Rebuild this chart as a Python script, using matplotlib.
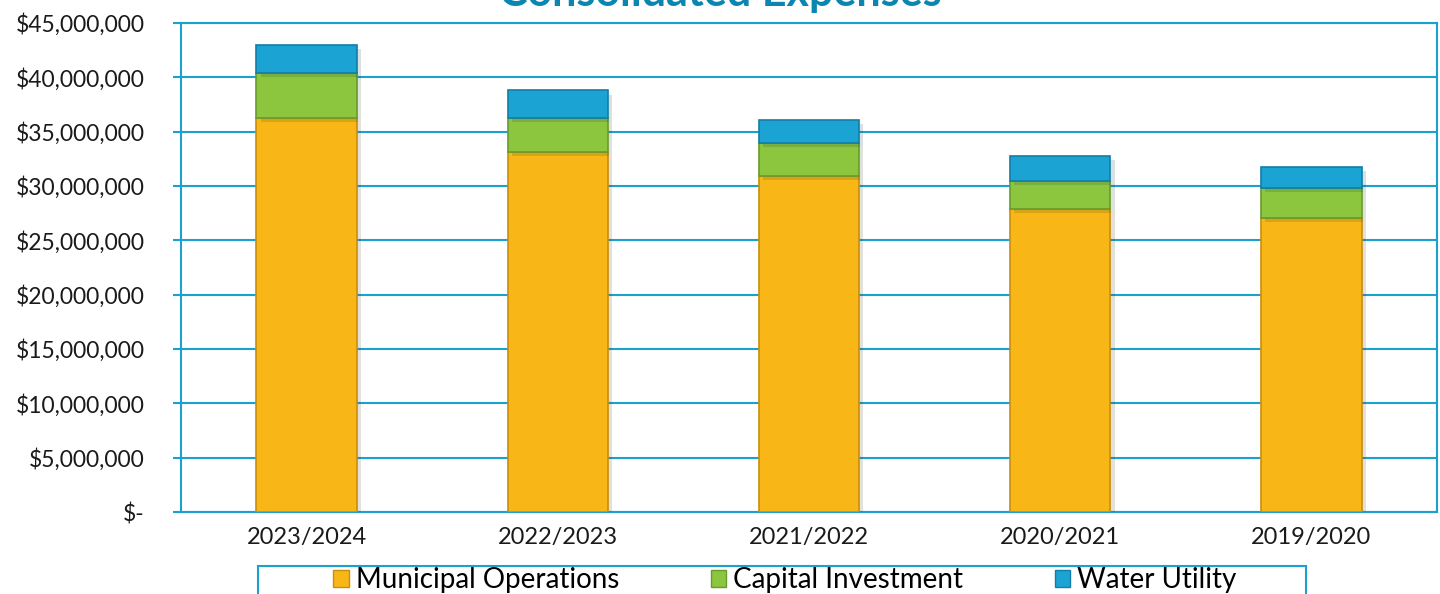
import matplotlib.pyplot as plt
import matplotlib.patheffects as pe
from matplotlib.patches import Rectangle, Patch
from matplotlib.ticker import FuncFormatter
import numpy as np

years = ['2023/2024', '2022/2023', '2021/2022', '2020/2021', '2019/2020']
municipal = [36250000, 33100000, 30900000, 27900000, 27050000]
capital = [4150000, 3150000, 3050000, 2550000, 2750000]
water = [2550000, 2550000, 2150000, 2300000, 1950000]

teal = '#1ba1cf'
colors = ['#f8b617', '#8cc63f', '#1aa3d3']
edges = ['#c98e0b', '#6a9a2c', '#127fa6']
names = ['Municipal Operations', 'Capital Investment', 'Water Utility']

plt.rcParams['font.family'] = ['Lato', 'DejaVu Sans']

fig = plt.figure(figsize=(14.4, 5.94), dpi=100)
ax = fig.add_axes([181 / 1440, 1 - 512 / 594, (1437 - 181) / 1440, (512 - 23) / 594])

x = np.arange(len(years))
bottom = np.zeros(len(years))
shadow = [pe.SimplePatchShadow(offset=(3, -3), alpha=0.15), pe.Normal()]
for vals, c, ec, n in zip([municipal, capital, water], colors, edges, names):
    bars = ax.bar(x, vals, 0.4, bottom=bottom, color=c, edgecolor=ec,
                  linewidth=1.2, zorder=3)
    for b in bars:
        b.set_path_effects(shadow)
    bottom += np.array(vals)

ax.set_ylim(0, 45000000)
ax.set_xlim(-0.5, len(years) - 0.5)
ax.set_yticks(np.arange(0, 45000001, 5000000))
ax.yaxis.set_major_formatter(FuncFormatter(lambda v, p: '$-' if v == 0 else '${:,.0f}'.format(v)))
ax.set_xticks(x)
ax.set_xticklabels(years)
ax.grid(axis='y', color=teal, linewidth=1.5, zorder=0)
for s in ax.spines.values():
    s.set_color(teal)
    s.set_linewidth(1.5)
ax.tick_params(axis='y', colors=teal, labelcolor='#1a1a1a', labelsize=16.5, length=6, width=1.5, pad=20)
ax.tick_params(axis='x', length=0, labelsize=17, labelcolor='#1a1a1a', pad=11)

fig.text(0.5, 1 - 6 / 594, 'Consolidated Expenses', ha='center', va='baseline',
         fontsize=31, fontweight='bold', color='#0a86b0')

fig.patches.append(Rectangle((258 / 1440, -0.02), (1306 - 258) / 1440, 0.02 + (594 - 566) / 594,
                             transform=fig.transFigure, fill=False, edgecolor=teal, linewidth=1.5))
handles = [Patch(facecolor=c, edgecolor=ec, linewidth=1) for c, ec in zip(colors, edges)]
fig.legend(handles, names, loc='center', bbox_to_anchor=(0.545, 1 - 580 / 594), ncol=3, frameon=False,
           fontsize=20, handlelength=0.55, handleheight=0.55, handletextpad=0.25,
           columnspacing=3.3, borderpad=0)

fig.savefig('out.png', dpi=100)
